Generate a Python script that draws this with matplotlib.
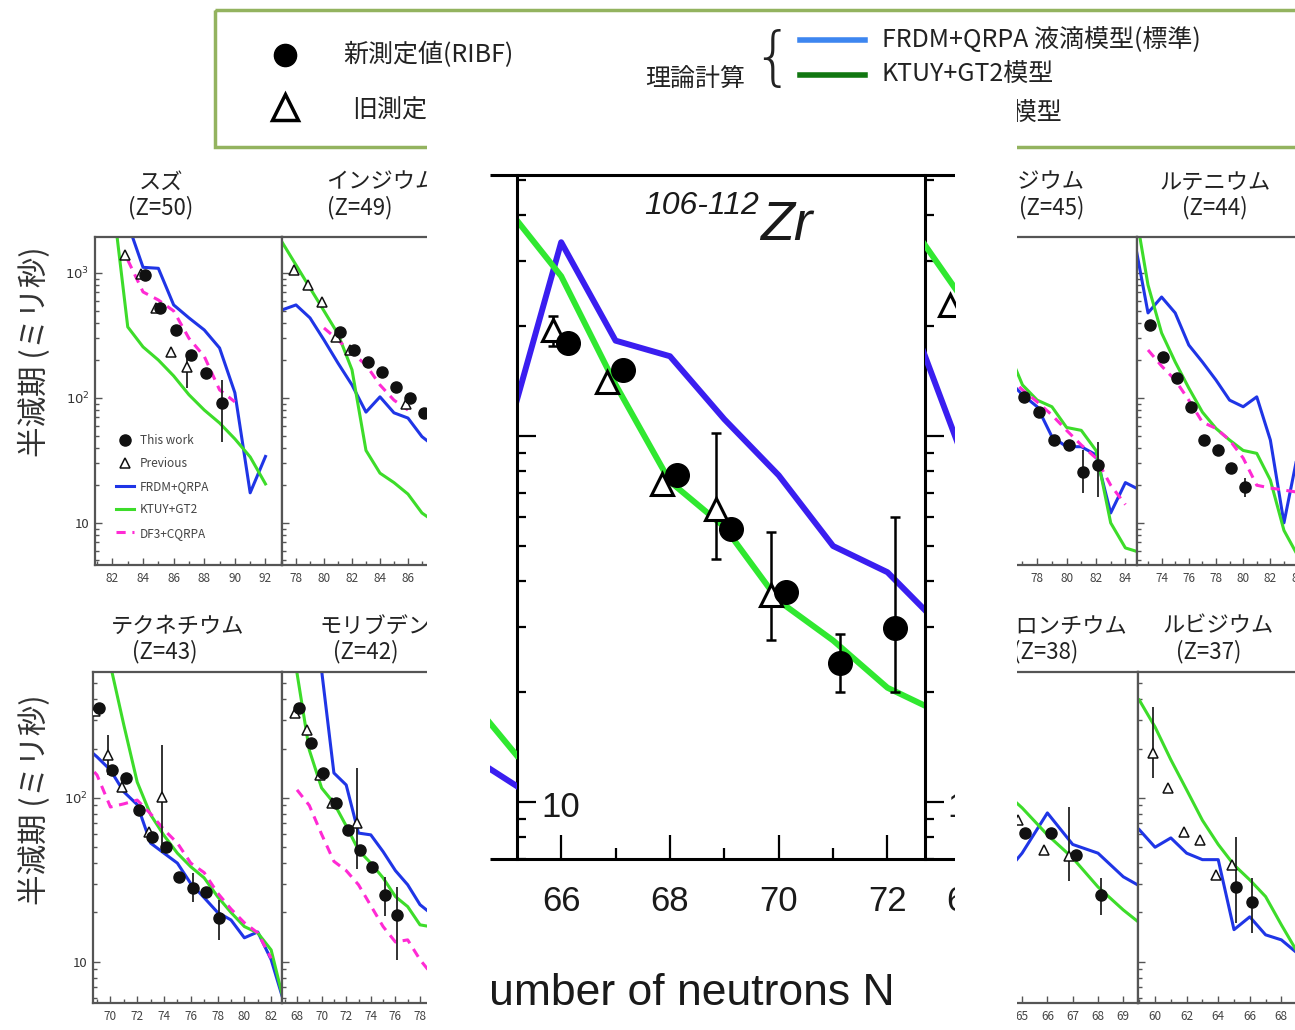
import numpy as np
import matplotlib
matplotlib.use("Agg")
import matplotlib.pyplot as plt
from matplotlib.patches import Rectangle
from matplotlib.ticker import (FixedLocator, FixedFormatter, LogLocator,
                               MultipleLocator, NullFormatter)

plt.rcParams['font.family'] = ['Noto Sans CJK JP', 'DejaVu Sans']
plt.rcParams['mathtext.fontset'] = 'dejavusans'

nan = np.nan

# ---------------- データ: 半減期 (ミリ秒) ----------------
# 上段 スズ Z=50
sn_n = [84, 85, 86, 87, 88, 89]
sn_t = [963, 525, 350, 221, 158, 91]
sn_prev_n = [83, 84, 85, 86, 87]
sn_prev_t = [1400, 980, 520, 232, 177]
sn_th_n = [82, 83, 84, 85, 86, 87, 88, 89, 90, 91, 92]
sn_frdm = [nan, 2500, 1110, 1090, 555, 437, 350, 251, 110, 17.4, 34]
sn_ktuy = [4000, 370, 256, 201, 150, 106, 80, 63, 47, 33.7, 20.5]
sn_df3 = [nan, 1270, 705, 608, 497, 300, 215, 116, 93, nan, nan]
sn_err_n, sn_err_lo, sn_err_hi = [89], [44], [140]
sn_perr_n, sn_perr_lo, sn_perr_hi = [87], [120], [230]

# インジウム Z=49
in_n = [81, 82, 83, 84, 85, 86, 87, 88]
in_t = [337, 242, 194, 161, 122, 100, 76, 62]
in_prev_n = [78, 79, 80, 81, 82, 86]
in_prev_t = [1050, 800, 590, 310, 240, 90]
in_th_n = [77, 78, 79, 80, 81, 82, 83, 84, 85, 86, 87, 88]
in_frdm = [506, 555, 437, 291, 190, 127, 77, 102, 76, 69, 49, 40]
in_ktuy = [1770, 1159, 759, 497, 325, 168, 38, 25, 21, 17, 12, 10]
in_df3 = [nan, nan, nan, 363, 291, 229, 184, 127, 96, 80, nan, nan]

# ロジウム Z=45
rh_n = [77, 78, 79, 80, 81, 82]
rh_t = [102, 77, 46, 42, 25.6, 29]
rh_th_n = [76, 77, 78, 79, 80, 81, 82, 83, 84, 85]
rh_frdm = [140, 106, 85, 49, 40.7, 40.7, 35, 12, 21, 18.3]
rh_ktuy = [242, 127, 96, 85, 58, 55, 38, 10, 6.3, 5.8]
rh_df3 = [150, 116, 93, 73, 55, 42, 33, 20, 14, nan]
rh_err_n, rh_err_lo, rh_err_hi = [81, 82], [17.4, 16], [38, 44]

# ルテニウム Z=44
ru_n = [73, 74, 75, 76, 77, 78, 79, 80]
ru_t = [384, 213, 145, 85, 46, 38, 27.5, 19.4]
ru_th_n = [72, 73, 74, 75, 76, 77, 78, 79, 80, 81, 82, 83, 84]
ru_frdm = [1837, 479, 642, 479, 265, 194, 139, 96, 85, 102, 46, 10, 35]
ru_ktuy = [3500, 801, 331, 194, 120, 77, 57, 46, 38, 36, 22, 8.7, 5.5]
ru_df3 = [nan, 242, 180, 139, 96, 64, 57, 46, 33, 20, 19, 18.3, 17.6]
ru_err_n, ru_err_lo, ru_err_hi = [80], [16], [23]

# 下段 テクネチウム Z=43
tc_n = [69, 70, 71, 72, 73, 74, 75, 76, 77, 78]
tc_t = [354, 148, 132, 84.5, 58, 50.3, 33, 28, 26.7, 18.5]
tc_prev_n = [69, 70, 71, 73, 74]
tc_prev_t = [340, 183, 117, 62, 101]
tc_th_n = [68, 69, 70, 71, 72, 73, 74, 75, 76, 77, 78, 79, 80, 81, 82, 83]
tc_frdm = [210, 178, 148, 109, 91, 53, 46, 40, 30, 24.6, 20, 18, 14, 15.2, 10.3, 5.5]
tc_ktuy = [nan, 1500, 647, 279, 125, 79, 59, 46, 38, 32.5, 25, 20, 16.4, 15, 11.8, 5.5]
tc_df3 = [170, 138, 88, 92, 97, 80, 64, 53, 40, 35, 26.3, 21, 17.3, 15, 10.5, nan]
tc_err_n, tc_err_lo, tc_err_hi = [76, 78], [23, 13.6], [35, 23.9]
tc_perr_n, tc_perr_lo, tc_perr_hi = [70, 74], [138, 46], [242, 210]

# モリブデン Z=42
mo_n = [68, 69, 70, 71, 72, 73, 74, 75, 76]
mo_t = [354, 216, 142, 93, 64, 48, 38, 25.6, 19.4]
mo_prev_n = [68, 69, 70, 71, 73]
mo_prev_t = [330, 260, 138, 93, 70]
mo_th_n = [67, 68, 69, 70, 71, 72, 73, 74, 75, 76, 77, 78, 79]
mo_frdm = [nan, nan, 5000, 600, 142, 120, 61, 59.5, 47, 36, 29.5, 22.3, 19.4]
mo_ktuy = [1500, 578, 196, 115, 93, 67.5, 48, 40, 32.5, 25, 21.7, 16.8, 16.3]
mo_df3 = [nan, 112, 90, 60, 41, 36, 29.5, 22, 16.4, 13.2, 13.6, 10.3, 8.3]
mo_err_n, mo_err_lo, mo_err_hi = [75, 76], [19, 10.3], [33, 28.6]
mo_perr_n, mo_perr_lo, mo_perr_hi = [73], [37], [152]

# ストロンチウム Z=38
sr_n = [65, 66, 67, 68]
sr_t = [61, 61, 45, 25.6]
sr_prev_n = [65, 66, 67]
sr_prev_t = [73, 48, 44]
sr_th_n = [63, 64, 65, 66, 67, 68, 69, 70]
sr_frdm = [20, 30, 46, 81, 52, 46, 33, 27]
sr_ktuy = [160, 120, 87, 59.5, 43, 28.6, 20.7, 15.6]
sr_err_n, sr_err_lo, sr_err_hi = [68], [19.4], [32.5]
sr_perr_n, sr_perr_lo, sr_perr_hi = [67], [31], [88]

# ルビジウム Z=37
rb_n = [65, 66]
rb_t = [28.6, 23]
rb_prev_n = [60, 61, 62, 63, 64, 65]
rb_prev_t = [188, 115, 62, 55.5, 34, 39]
rb_th_n = [59, 60, 61, 62, 63, 64, 65, 66, 67, 68, 69]
rb_frdm = [64, 50, 57, 46, 42, 42, 15.7, 18.8, 14.6, 13.6, 11.3]
rb_ktuy = [396, 271, 171, 112, 73, 52, 39, 31.6, 25, 16.8, 11.5]
rb_err_n, rb_err_lo, rb_err_hi = [65, 66], [17.3, 15], [58, 32.5]
rb_perr_n, rb_perr_lo, rb_perr_hi = [60], [132], [358]

# 拡大図 ジルコニウム Z=40
zr_n = [66, 67, 68, 69, 70, 71, 72]
zr_t = [179, 151, 78.3, 55.8, 37.4, 23.9, 29.8]
zr_prev_n = [66, 67, 68, 69, 70]
zr_prev_t = [194, 140, 73.8, 63.2, 36.7]
zr_th_n = [65, 66, 67, 68, 69, 70, 71, 72, 73]
zr_frdm = [100, 338, 182, 165, 111, 78, 50, 42.4, 30]
zr_ktuy = [420, 273, 138, 75, 56.4, 35.4, 27.6, 20.5, 17.4]
zr_err_n, zr_err_lo, zr_err_hi = [71, 72], [19.9, 19.9], [28.8, 60.1]
zr_perr_n, zr_perr_lo, zr_perr_hi = [66, 69, 70], [176, 46, 27.7], [212, 102, 54.5]
# 隣のパネル (ニオブ / イットリウム) の端
nb_th_n = [74, 75]
nb_frdm = [13.7, 11.05]
nb_ktuy = [20.1, 13.4]
y_th_n = [64, 65]
y_frdm = [238, 95.5]
y_ktuy = [404, 247]
y_prev_n = [65]
y_prev_t = [228]

legend_labels = ['This work', 'Previous', 'FRDM+QRPA', 'KTUY+GT2', 'DF3+CQRPA']

# ---------------- 描画 ----------------
W, H = 1295, 1030
fig = plt.figure(figsize=(W / 100, H / 100), dpi=100)

BLUE = '#1f35e6'
GREEN = '#3ddc2a'
MAG = '#ff2ad4'
IBLUE = '#3a1ef0'
IGREEN = '#30e830'
TOP_YLIM = (4.6, 1941)
BOT_YLIM = (5.6, 587)


def px_axes(x0, y0, x1, y1, z=1):
    # ピクセル座標 (左上原点) で軸を置く
    ax = fig.add_axes([x0 / W, 1 - y1 / H, (x1 - x0) / W, (y1 - y0) / H])
    ax.set_zorder(z)
    return ax


def errbars(ax, n, t_n, t, lo, hi, shift, **kw):
    for k, nn in enumerate(n):
        v = t[t_n.index(nn)]
        ax.errorbar([nn + shift], [v], yerr=[[v - lo[k]], [hi[k] - v]],
                    fmt='none', **kw)


bg = px_axes(0, 0, W, H, z=0)
bg.set_xlim(0, W)
bg.set_ylim(H, 0)
bg.axis('off')

# 凡例の枠
bg.add_patch(Rectangle((215, 10), 1200, 137, fill=False, ec='#93b35f', lw=2.5))
bg.plot([285], [55], 'o', color='k', ms=16)
bg.plot([285], [107], '^', mfc='white', mec='k', ms=19, mew=2.5)
bg.text(343, 55, '新測定値(RIBF)', fontsize=18, va='center', color='#222')
bg.text(352, 110, '旧測定値(ENSDF)', fontsize=18, va='center', color='#222')
bg.text(645, 80, '理論計算', fontsize=18, va='center', color='#222')
bg.text(772, 60, '{', fontsize=46, va='center', ha='center',
        family='DejaVu Sans', fontweight='light', color='#222')
bg.plot([800, 865], [40, 40], color='#3d86f0', lw=4)
bg.plot([800, 865], [75, 75], color='#117711', lw=4)
bg.plot([800, 865], [113, 113], color='#ff33cc', lw=4, ls='--')
bg.text(882, 40, 'FRDM+QRPA 液滴模型(標準)', fontsize=18, va='center', color='#222')
bg.text(882, 75, 'KTUY+GT2模型', fontsize=18, va='center', color='#222')
bg.text(1062, 113, 'DF3+CQRPA 殻模型', fontsize=18, va='center', ha='right', color='#222')

for yc in (352, 800):
    bg.text(35, yc, '半減期 (ミリ秒)', rotation=90, ha='center', va='center',
            fontsize=22, color='#333')

panels = [
    dict(rect=(95, 237, 282, 565), xlim=(80.86, 93.08), ylim=TOP_YLIM, step=2,
         name='スズ', name_x=161, zl='(Z=50)', zl_x=161, ty=182,
         iso=('134-137', 'Sn', '50', 229, 266), ylab=True, legend=True,
         n=sn_n, t=sn_t, pn=sn_prev_n, pt=sn_prev_t, th=sn_th_n,
         frdm=sn_frdm, ktuy=sn_ktuy, df3=sn_df3,
         err=(sn_err_n, sn_err_lo, sn_err_hi), perr=(sn_perr_n, sn_perr_lo, sn_perr_hi)),
    dict(rect=(282, 237, 469, 565), xlim=(77.0, 90.36), ylim=TOP_YLIM, step=2,
         name='インジウム', name_x=382, zl='(Z=49)', zl_x=360, ty=182,
         iso=('130-137', 'In', '49', 398, 264),
         n=in_n, t=in_t, pn=in_prev_n, pt=in_prev_t, th=in_th_n,
         frdm=in_frdm, ktuy=in_ktuy, df3=in_df3),
    dict(rect=(954, 237, 1137, 565), xlim=(72.34, 84.79), ylim=TOP_YLIM, step=2,
         name='ロジウム', name_x=1040, zl='(Z=45)', zl_x=1052, ty=182,
         iso=('119-127', 'Rh', '45', 1060, 253),
         n=rh_n, t=rh_t, th=rh_th_n, frdm=rh_frdm, ktuy=rh_ktuy, df3=rh_df3,
         err=(rh_err_n, rh_err_lo, rh_err_hi)),
    dict(rect=(1137, 237, 1300, 565), xlim=(72.19, 84.18), ylim=TOP_YLIM, step=2,
         name='ルテニウム', name_x=1215, zl='(Z=44)', zl_x=1215, ty=182,
         iso=('117-124', 'Ru', '44', 1228, 253),
         n=ru_n, t=ru_t, th=ru_th_n, frdm=ru_frdm, ktuy=ru_ktuy, df3=ru_df3,
         err=(ru_err_n, ru_err_lo, ru_err_hi)),
    dict(rect=(93, 672, 282, 1003), xlim=(68.70, 82.81), ylim=BOT_YLIM, step=2,
         name='テクネチウム', name_x=178, zl='(Z=43)', zl_x=165, ty=626,
         iso=('112-121', 'Tc', '43', 220, 707), ylab=True,
         n=tc_n, t=tc_t, pn=tc_prev_n, pt=tc_prev_t, th=tc_th_n,
         frdm=tc_frdm, ktuy=tc_ktuy, df3=tc_df3,
         err=(tc_err_n, tc_err_lo, tc_err_hi), perr=(tc_perr_n, tc_perr_lo, tc_perr_hi)),
    dict(rect=(282, 672, 458, 1003), xlim=(66.78, 81.09), ylim=BOT_YLIM, step=2,
         name='モリブデン', name_x=375, zl='(Z=42)', zl_x=366, ty=626,
         iso=('110-118', 'Mo', '42', 398, 707),
         n=mo_n, t=mo_t, pn=mo_prev_n, pt=mo_prev_t, th=mo_th_n,
         frdm=mo_frdm, ktuy=mo_ktuy, df3=mo_df3,
         err=(mo_err_n, mo_err_lo, mo_err_hi), perr=(mo_perr_n, mo_perr_lo, mo_perr_hi)),
    dict(rect=(954, 672, 1138, 1003), xlim=(62.31, 69.58), ylim=BOT_YLIM, step=1,
         name='ストロンチウム', name_x=1050, zl='(Z=38)', zl_x=1046, ty=626,
         iso=('102-106', 'Sr', '38', 1068, 708),
         n=sr_n, t=sr_t, pn=sr_prev_n, pt=sr_prev_t, th=sr_th_n,
         frdm=sr_frdm, ktuy=sr_ktuy,
         err=(sr_err_n, sr_err_lo, sr_err_hi), perr=(sr_perr_n, sr_perr_lo, sr_perr_hi)),
    dict(rect=(1138, 672, 1300, 1003), xlim=(58.92, 69.18), ylim=BOT_YLIM, step=2,
         name='ルビジウム', name_x=1218, zl='(Z=37)', zl_x=1209, ty=626,
         iso=('98-103', 'Rb', '37', 1231, 710),
         n=rb_n, t=rb_t, pn=rb_prev_n, pt=rb_prev_t, th=rb_th_n,
         frdm=rb_frdm, ktuy=rb_ktuy,
         err=(rb_err_n, rb_err_lo, rb_err_hi), perr=(rb_perr_n, rb_perr_lo, rb_perr_hi)),
]

for p in panels:
    ax = px_axes(*p['rect'], z=1)
    ax.set_yscale('log')
    ax.set_xlim(*p['xlim'])
    ax.set_ylim(*p['ylim'])
    h_frdm, = ax.plot(p['th'], p['frdm'], color=BLUE, lw=2.2)
    h_ktuy, = ax.plot(p['th'], p['ktuy'], color=GREEN, lw=2.2)
    h_df3, = ax.plot(p['th'], p.get('df3', [nan] * len(p['th'])), color=MAG,
                     lw=2.2, dashes=(3, 2.2))
    ekw = dict(ecolor='#222', elinewidth=1.3, capsize=0, zorder=4)
    if 'perr' in p:
        errbars(ax, *p['perr'][:1], p['pn'], p['pt'], *p['perr'][1:], -0.15, **ekw)
    if 'err' in p:
        errbars(ax, *p['err'][:1], p['n'], p['t'], *p['err'][1:], 0.13, **ekw)
    h_prev, = ax.plot(np.array(p.get('pn', [])) - 0.15, p.get('pt', []), '^',
                      mfc='white', mec='#111', ms=7, mew=1.1, zorder=5)
    h_work, = ax.plot(np.array(p['n']) + 0.13, p['t'], 'o', color='#111', ms=8, zorder=6)

    for s in ax.spines.values():
        s.set_color('#555')
        s.set_linewidth(1.6)
    ax.xaxis.set_major_locator(MultipleLocator(p['step']))
    ax.xaxis.set_minor_locator(MultipleLocator(1))
    ax.xaxis.set_major_formatter(lambda v, pos: f'{v:.0f}')
    ax.yaxis.set_major_locator(FixedLocator([10, 100, 1000]))
    ax.yaxis.set_minor_locator(LogLocator(base=10, subs=range(2, 10)))
    ax.yaxis.set_minor_formatter(NullFormatter())
    ax.tick_params(which='both', direction='in', color='#555', width=1,
                   top=False, right=False)
    ax.tick_params(which='major', length=5)
    ax.tick_params(which='minor', length=3)
    ax.tick_params(axis='x', labelsize=8.5, labelcolor='#444', pad=5)
    if p.get('ylab'):
        ax.yaxis.set_major_formatter(FixedFormatter(['10', '$10^2$', '$10^3$']))
        ax.tick_params(axis='y', labelsize=9.5, labelcolor='#333', pad=4)
    else:
        ax.tick_params(axis='y', labelleft=False)

    if p.get('legend'):
        ax.legend([h_work, h_prev, h_frdm, h_ktuy, h_df3], legend_labels,
                  loc='lower left', bbox_to_anchor=(0.055, 0.045), frameon=False,
                  fontsize=8.5, handlelength=1.5, handletextpad=0.5,
                  labelspacing=0.86, labelcolor='#444')

    # 元素名と原子番号
    bg.text(p['name_x'], p['ty'], p['name'], ha='center', va='center',
            fontsize=16, color='#222')
    bg.text(p['zl_x'], p['ty'] + 26, p['zl'], ha='center', va='center',
            fontsize=16, color='#222')
    mass, sym, zz, jx, jy = p['iso']
    bg.text(jx, jy - 7, mass, ha='right', va='center', fontsize=6,
            style='italic', color='#333', family='DejaVu Sans')
    bg.text(jx - 3, jy + 11, zz, ha='right', va='center', fontsize=6,
            style='italic', color='#333', family='DejaVu Sans')
    bg.text(jx + 1, jy, sym, ha='left', va='center', fontsize=11,
            style='italic', color='#333', family='DejaVu Sans')

# ---------------- 拡大図 ----------------
cover = px_axes(427, 92, 1017, 1030, z=10)
cover.set_xticks([])
cover.set_yticks([])
for s in cover.spines.values():
    s.set_visible(False)
cover.set_facecolor('white')

ZR_YLIM = (6.98, 516)


def inset_ticks_y(ax, show):
    ax.yaxis.set_major_locator(LogLocator(base=10))
    ax.yaxis.set_minor_locator(LogLocator(base=10, subs=range(2, 10)))
    ax.yaxis.set_major_formatter(NullFormatter())
    ax.yaxis.set_minor_formatter(NullFormatter())
    ax.tick_params(axis='y', which='both', direction='in', color='k', width=1.6,
                   left=show, right=False, labelleft=False)
    ax.tick_params(axis='y', which='major', length=13.5)
    ax.tick_params(axis='y', which='minor', length=6.8)


zr = px_axes(516.6, 175, 925, 859, z=11)
zr.set_yscale('log')
zr.set_xlim(65.18, 72.69)
zr.set_ylim(*ZR_YLIM)
zr.patch.set_alpha(0)
zr.plot(zr_th_n, zr_frdm, color=IBLUE, lw=4.3)
zr.plot(zr_th_n, zr_ktuy, color=IGREEN, lw=4.3)
iekw = dict(ecolor='k', elinewidth=1.8, capsize=3.6, capthick=1.8, zorder=4)
errbars(zr, zr_perr_n, zr_prev_n, zr_prev_t, zr_perr_lo, zr_perr_hi, -0.15, **iekw)
errbars(zr, zr_err_n, zr_n, zr_t, zr_err_lo, zr_err_hi, 0.13, **iekw)
zr.plot(np.array(zr_prev_n) - 0.15, zr_prev_t, '^', mfc='white', mec='k',
        ms=16, mew=2.2, zorder=5)
zr.plot(np.array(zr_n) + 0.13, zr_t, 'o', color='k', ms=17, zorder=6)
for side in ('top', 'bottom'):
    zr.spines[side].set_visible(False)
for side in ('left', 'right'):
    zr.spines[side].set_linewidth(2.2)
inset_ticks_y(zr, True)
zr.xaxis.set_major_locator(MultipleLocator(2))
zr.xaxis.set_minor_locator(MultipleLocator(1))
zr.xaxis.set_major_formatter(lambda v, pos: f'{v:.0f}')
zr.tick_params(axis='x', which='both', direction='in', color='k', width=1.6,
               top=False, labelsize=25, pad=19, labelcolor='#1a1a1a',
               labelfontfamily='Liberation Sans')
zr.tick_params(axis='x', which='major', length=17.5)
zr.tick_params(axis='x', which='minor', length=8.2)

left_nb = px_axes(490, 175, 516.6, 859, z=11)
left_nb.set_yscale('log')
left_nb.set_xlim(74.5, 75.0)
left_nb.set_ylim(*ZR_YLIM)
left_nb.patch.set_alpha(0)
left_nb.plot(nb_th_n, nb_frdm, color=IBLUE, lw=4.3)
left_nb.plot(nb_th_n, nb_ktuy, color=IGREEN, lw=4.3)
left_nb.axis('off')

right_nb = px_axes(925, 175, 955, 859, z=11)
right_nb.set_yscale('log')
right_nb.set_xlim(64.4, 64.95)
right_nb.set_ylim(*ZR_YLIM)
right_nb.patch.set_alpha(0)
right_nb.plot(y_th_n, y_frdm, color=IBLUE, lw=4.3)
right_nb.plot(y_th_n, y_ktuy, color=IGREEN, lw=4.3)
right_nb.plot(np.array(y_prev_n) - 0.15, y_prev_t, '^', mfc='white', mec='k',
              ms=16, mew=2.2)
for s in right_nb.spines.values():
    s.set_visible(False)
inset_ticks_y(right_nb, True)
right_nb.set_xticks([])

cont = px_axes(490, 150, 955, 1030, z=12)
cont.set_xlim(490, 955)
cont.set_ylim(1030, 150)
cont.axis('off')
for yy in (175, 859):
    cont.plot([490, 955], [yy, yy], color='k', lw=2.2, solid_capstyle='butt')
ifont = dict(family='Liberation Sans', color='#1a1a1a', clip_on=True)
cont.text(541, 817, '10', fontsize=25, va='baseline', **ifont)
cont.text(947, 817, '10', fontsize=25, va='baseline', **ifont)
cont.text(946, 911, '64', fontsize=25, va='baseline', **ifont)
cont.text(644, 214, '106-112', fontsize=23, style='italic', va='baseline', **ifont)
cont.text(760, 240, 'Zr', fontsize=40, style='italic', va='baseline', **ifont)
cont.text(895, 1005, 'Number of neutrons N', fontsize=32, ha='right',
          va='baseline', **ifont)

fig.savefig('out.png', dpi=100)
